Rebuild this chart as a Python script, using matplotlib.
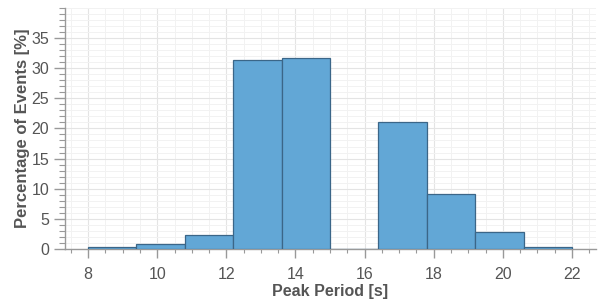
import matplotlib
matplotlib.use("Agg")
import matplotlib.pyplot as plt
import numpy as np
from matplotlib.ticker import MultipleLocator

# Histogram of peak period (bin edges in s, share of events in %)
bin_edges = [8.0, 9.4, 10.8, 12.2, 13.6, 15.0, 16.4, 17.8, 19.2, 20.6, 22.0]
percentages = [0.28, 0.83, 2.38, 31.35, 31.68, 0.0, 21.15, 9.08, 2.77, 0.38]

plt.rcParams["font.family"] = ["Liberation Sans", "DejaVu Sans"]

fig = plt.figure(figsize=(5.98, 3.08), dpi=100)
ax = fig.add_axes([0.108, 0.192, 0.889, 0.782])

edges = np.array(bin_edges)
ax.bar(edges[:-1], percentages, width=np.diff(edges), align="edge",
       color="#62a7d6", edgecolor="#3b6688", linewidth=0.9, zorder=3)

ax.set_xlim(7.32, 22.7)
ax.set_ylim(0, 40)

ax.xaxis.set_major_locator(MultipleLocator(2))
ax.xaxis.set_minor_locator(MultipleLocator(0.5))
ax.yaxis.set_major_locator(MultipleLocator(5))
ax.yaxis.set_minor_locator(MultipleLocator(1))
ax.set_yticks(range(0, 40, 5))

ax.grid(which="major", color="#e4e4e4", linewidth=0.8, zorder=0)
ax.grid(which="minor", color="#f2f2f2", linewidth=0.7, zorder=0)
ax.set_axisbelow(True)

for side in ["top", "right"]:
    ax.spines[side].set_visible(False)
for side in ["left", "bottom"]:
    ax.spines[side].set_color("#999999")
    ax.spines[side].set_linewidth(1.0)

ax.tick_params(which="major", direction="out", length=8, width=1.0,
               color="#999999", labelcolor="#555555", labelsize=11.5, pad=3)
ax.tick_params(which="minor", direction="out", length=4, width=0.8,
               color="#999999")
ax.tick_params(axis="x", which="major", length=6.7, pad=6)
ax.tick_params(axis="x", which="minor", length=3.2)

ax.set_xlabel("Peak Period [s]", fontsize=11.5, fontweight="bold",
              color="#555555", labelpad=2)
ax.set_ylabel("Percentage of Events [%]", fontsize=12, fontweight="bold",
              color="#555555", labelpad=1)

fig.savefig("out.png", dpi=100)
